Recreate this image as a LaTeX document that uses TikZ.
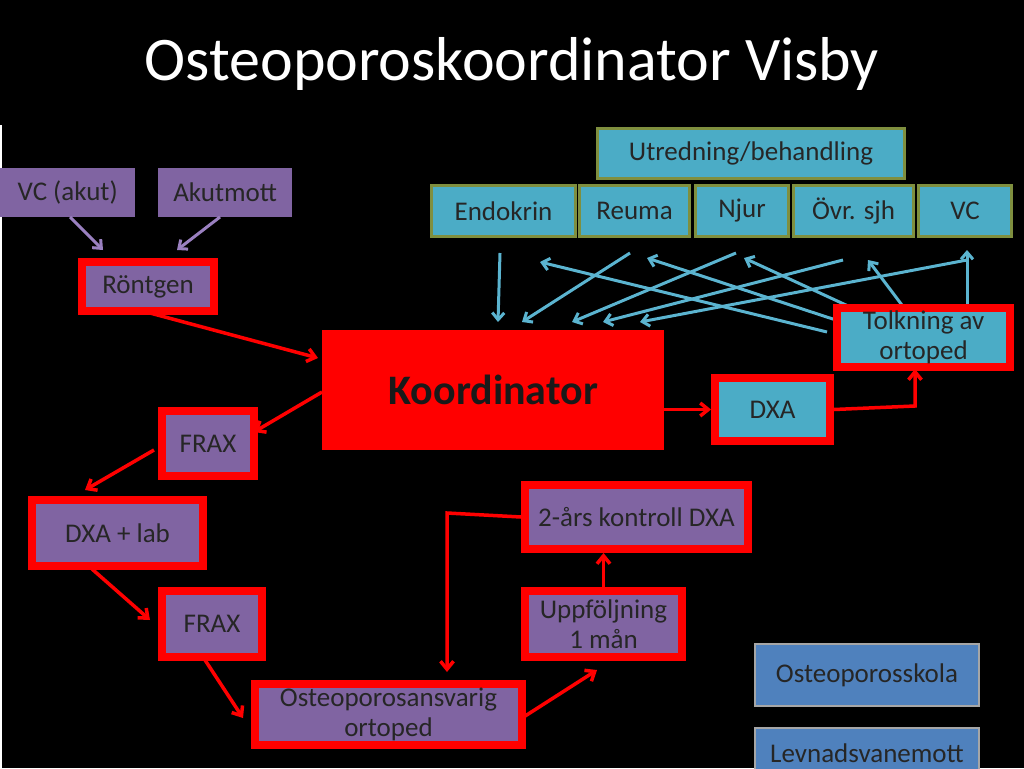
\documentclass[tikz,border=0pt]{standalone}
\usepackage{fontspec}
\setmainfont{Carlito}
\usetikzlibrary{arrows.meta}
\definecolor{boxpurple}{HTML}{8064A2}
\definecolor{boxcyan}{HTML}{4BACC6}
\definecolor{boxblue}{HTML}{4F81BD}
\definecolor{boxolive}{HTML}{7F8F3F}
\definecolor{arrowcyan}{HTML}{5BB4D0}
\definecolor{arrowpurple}{HTML}{9A80C0}

\begin{document}
\begin{tikzpicture}[x=1pt, y=-1pt,
    box/.style={draw=none, fill=#1, inner sep=0pt, font=\fontsize{27}{30}\selectfont, align=center, text=black!85},
    plain box/.style={box=boxpurple, anchor=north west},
    unit box/.style={box=boxcyan, draw=boxolive, line width=3pt, anchor=north west},
    framed/.style={draw=red, line width=8pt},
    red arrow/.style={-{Straight Barb[length=8pt,width=13pt]}, red, line width=3.5pt},
    cyan arrow/.style={-{Straight Barb[length=7pt,width=12pt]}, arrowcyan, line width=3pt},
    purple arrow/.style={-{Straight Barb[length=7pt,width=12pt]}, arrowpurple, line width=3pt}
]
\fill[black] (0,0) rectangle (1024,768);
\useasboundingbox (0,0) rectangle (1024,768);
\fill[white] (0,125) rectangle (2,768);

% Title
\node[text=white, font=\fontsize{62}{68}\selectfont] (title) at (512,64) {Osteoporoskoordinator Visby};

% Cyan arrows
\draw[cyan arrow] (500,253) -- (498,322);
\draw[cyan arrow] (630,253) -- (522,322);
\draw[cyan arrow] (736,253) -- (572,322);
\draw[cyan arrow] (843,260) -- (603,322);
\draw[cyan arrow] (967,260) -- (640,322);
\draw[cyan arrow] (827,332) -- (540,262);
\draw[cyan arrow] (845,323) -- (647,258);
\draw[cyan arrow] (885,323) -- (744,258);
\draw[cyan arrow] (917,325) -- (868,260);
\draw[cyan arrow] (967,325) -- (967,250);

% Units
\node[unit box, minimum width=307pt, minimum height=50pt] (utr) at (596,127) {Utredning/behandling};
\node[unit box, minimum width=144pt, minimum height=51pt] (endo) at (430,184) {Endokrin};
\node[unit box, minimum width=110pt, minimum height=51pt] (reuma) at (578,184) {Reuma};
\node[unit box, minimum width=93pt, minimum height=51pt] (njur) at (694,184) {Njur};
\node[unit box, minimum width=120pt, minimum height=51pt] (ovr) at (792,184) {Övr. sjh};
\node[unit box, minimum width=93pt, minimum height=51pt] (vc) at (917,184) {VC};

% Entry
\node[plain box, minimum width=135pt, minimum height=49pt] (vcakut) at (0,168) {VC (akut)};
\node[plain box, minimum width=134pt, minimum height=49pt] (akut) at (158,168) {Akutmott};
\node[plain box, framed, minimum width=132pt, minimum height=49pt] (rtg) at (78,258) {Röntgen};

% Coordinator
\node[box=red, anchor=north west, minimum width=342pt, minimum height=120pt,
      font=\fontsize{42}{46}\selectfont\bfseries, text=black!90] (koord) at (322,330) {Koordinator};
\node[box=boxcyan, framed, anchor=north west, minimum width=115pt, minimum height=63pt] (dxa) at (711,374) {DXA};
\node[box=boxcyan, framed, anchor=north west, minimum width=173pt, minimum height=59pt] (tolk) at (833,304) {Tolkning av\\ortoped};

% Chain
\node[plain box, framed, minimum width=92pt, minimum height=65pt] (frax1) at (158,407) {FRAX};
\node[plain box, framed, minimum width=171pt, minimum height=66pt] (lab) at (28,496) {DXA + lab};
\node[plain box, framed, minimum width=100pt, minimum height=66pt] (frax2) at (158,587) {FRAX};
\node[plain box, framed, minimum width=267pt, minimum height=61pt] (ansv) at (251,680) {Osteoporosansvarig\\ortoped};
\node[plain box, framed, minimum width=157pt, minimum height=66pt] (uppf) at (521,587) {Uppföljning\\1 mån};
\node[plain box, framed, minimum width=223pt, minimum height=64pt] (kontr) at (521,481) {2-års kontroll DXA};

% Other
\node[box=boxblue, draw=gray!70, line width=2pt, anchor=north west, minimum width=224pt, minimum height=62pt] (skola) at (754,643) {Osteoporosskola};
\node[box=boxblue, draw=gray!70, line width=2pt, anchor=north west, minimum width=224pt, minimum height=50pt] (levn) at (754,727) {\raisebox{-10pt}{Levnadsvanemott}};

% Purple arrows
\draw[purple arrow] (70,217) -- (103,250);
\draw[purple arrow] (220,217) -- (177,250);

% Red arrows
\draw[red arrow] (150,313) -- (318,358);
\draw[red arrow] (322,392) -- (254,432);
\draw[red arrow] (154,450) -- (85,490);
\draw[red arrow] (92,569) -- (150,620);
\draw[red arrow] (205,660) -- (243,718);
\draw[red arrow] (522,718) -- (597,670);
\draw[red arrow] (uppf.north) -- (uppf.north |- kontr.south);
\draw[red arrow] (kontr.west) -- (447,513) -- (447,672);
\draw[red arrow] (koord.east |- dxa.west) -- (dxa.west);
\draw[red arrow] (dxa.east) -- (915,406) -- (915,369);
\end{tikzpicture}
\end{document}
